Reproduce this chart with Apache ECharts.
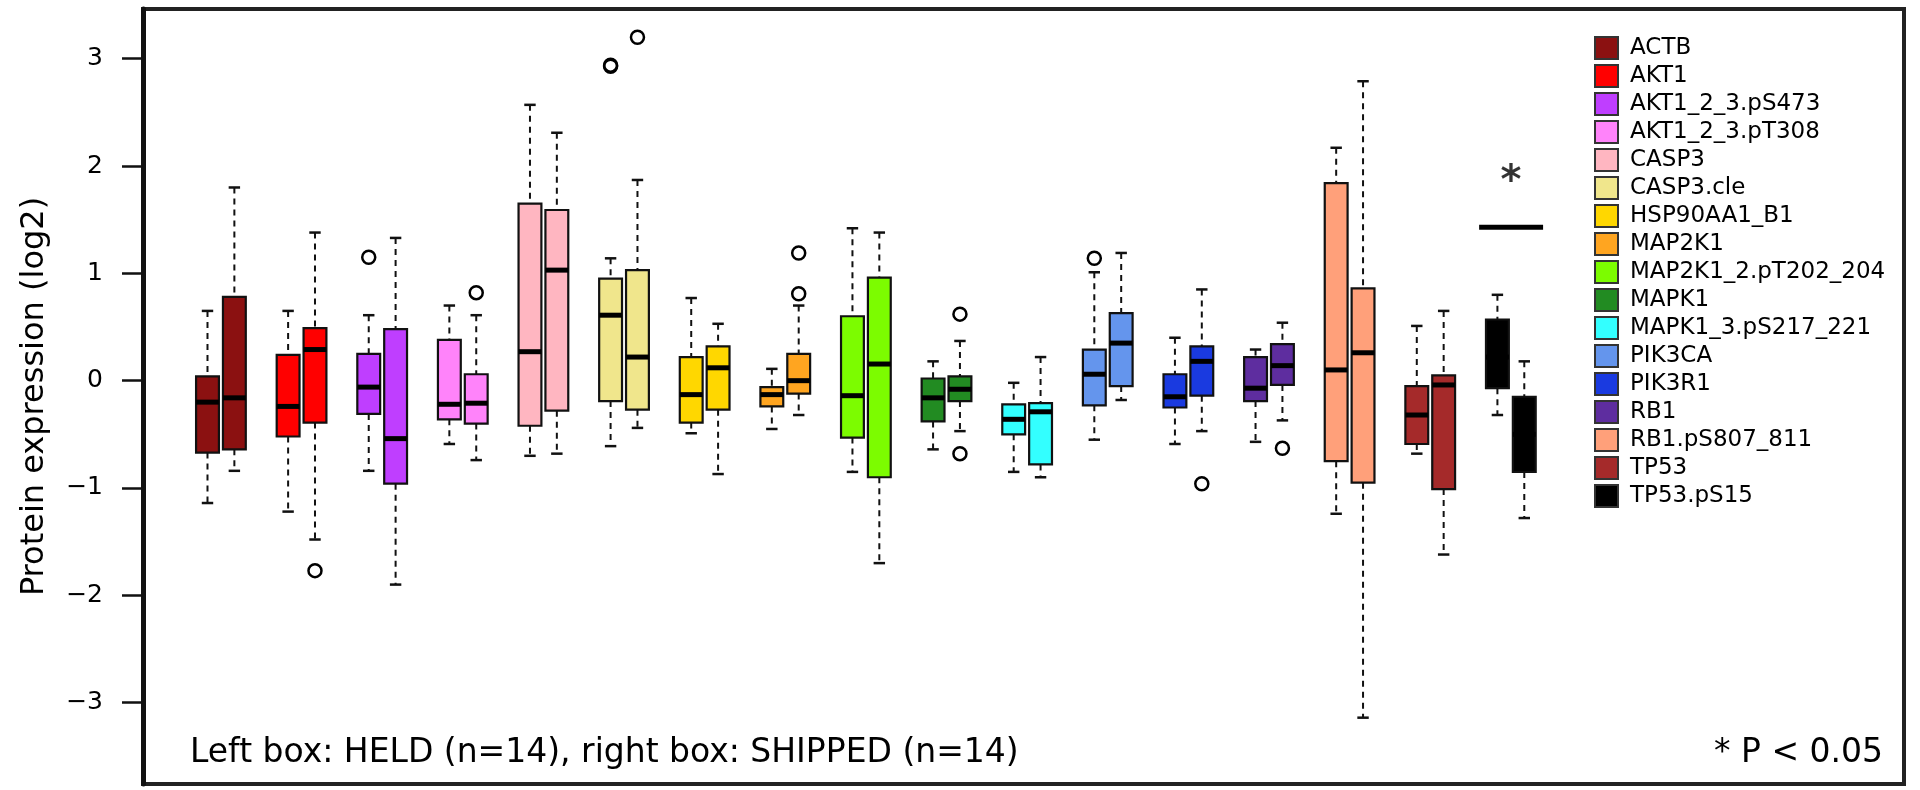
<!DOCTYPE html>
<html><head><meta charset="utf-8">
<script src="https://cdn.jsdelivr.net/npm/echarts@6/dist/echarts.min.js"></script>
<style>html,body{margin:0;padding:0;background:#fff}#c{width:1920px;height:790px}</style>
</head><body><div id="c"></div>
<script>
// ---------- data ----------
const categories = ['ACTB','AKT1','AKT1_2_3.pS473','AKT1_2_3.pT308','CASP3','CASP3.cle','HSP90AA1_B1','MAP2K1','MAP2K1_2.pT202_204','MAPK1','MAPK1_3.pS217_221','PIK3CA','PIK3R1','RB1','RB1.pS807_811','TP53','TP53.pS15'];
const colors = ['#8B1111','#FF0000','#BF3EFF','#FF83FA','#FFB6C1','#F0E68C','#FFD700','#FFA520','#7CFC00','#228B22','#33FFFF','#6495ED','#1A3AE0','#5E2D9F','#FFA07A','#A52A2A','#000000'];
// [lower whisker, Q1, median, Q3, upper whisker]
const heldStats = [
  [-1.14,-0.67,-0.20, 0.04,0.65],
  [-1.22,-0.52,-0.24, 0.24,0.65],
  [-0.84,-0.31,-0.06, 0.25,0.61],
  [-0.59,-0.36,-0.22, 0.38,0.70],
  [-0.70,-0.42, 0.27, 1.65,2.57],
  [-0.61,-0.19, 0.61, 0.95,1.14],
  [-0.49,-0.39,-0.13, 0.22,0.77],
  [-0.45,-0.24,-0.13,-0.06,0.11],
  [-0.85,-0.53,-0.14, 0.60,1.42],
  [-0.64,-0.38,-0.16, 0.02,0.18],
  [-0.85,-0.50,-0.36,-0.22,-0.02],
  [-0.55,-0.23, 0.06, 0.29,1.01],
  [-0.59,-0.25,-0.15, 0.06,0.40],
  [-0.57,-0.19,-0.07, 0.22,0.29],
  [-1.24,-0.75, 0.10, 1.84,2.17],
  [-0.68,-0.59,-0.32,-0.05,0.51],
  [-0.32,-0.07, 0.22, 0.57,0.80]
];
const shippedStats = [
  [-0.84,-0.64,-0.16, 0.78,1.80],
  [-1.48,-0.39, 0.29, 0.49,1.38],
  [-1.90,-0.96,-0.54, 0.48,1.33],
  [-0.74,-0.40,-0.21, 0.06,0.61],
  [-0.68,-0.28, 1.03, 1.59,2.31],
  [-0.44,-0.27, 0.22, 1.03,1.87],
  [-0.87,-0.27, 0.12, 0.32,0.53],
  [-0.32,-0.12, 0.00, 0.25,0.70],
  [-1.70,-0.90, 0.155,0.96,1.38],
  [-0.47,-0.19,-0.08, 0.04,0.37],
  [-0.90,-0.78,-0.29,-0.21,0.22],
  [-0.18,-0.05, 0.35, 0.63,1.19],
  [-0.47,-0.14, 0.18, 0.32,0.85],
  [-0.37,-0.04, 0.14, 0.34,0.54],
  [-3.14,-0.95, 0.26, 0.86,2.79],
  [-1.62,-1.01,-0.04, 0.05,0.65],
  [-1.28,-0.85,-0.50,-0.15,0.18]
];
// [category index, value]
const heldOutliers = [[2,1.15],[5,2.93],[5,2.94],[11,1.14]];
const shippedOutliers = [[1,-1.77],[3,0.82],[5,3.20],[7,1.19],[7,0.81],[9,0.62],[9,-0.68],[12,-0.96],[13,-0.63]];
const yTicks = [-3,-2,-1,0,1,2,3];
const significance = [{category: 16, barValue: 1.43, starValue: 1.95}];
const groupNote = 'Left box: HELD (n=14), right box: SHIPPED (n=14)';
const pNote = '* P < 0.05';
const yTitle = 'Protein expression (log2)';

// ---------- chart ----------
const FONT = 'DejaVu Sans';
const slotOf = (i, side) => 3 * i + 1 + side;

function renderBox(params, api) {
  const x = api.value(0);
  const lo = api.coord([x, api.value(1)]);
  const q1 = api.coord([x, api.value(2)]);
  const md = api.coord([x, api.value(3)]);
  const q3 = api.coord([x, api.value(4)]);
  const hi = api.coord([x, api.value(5)]);
  const w = api.size([1, 0])[0] * 0.85;
  const cx = lo[0];
  const color = api.visual('color');
  const dash = {stroke: '#111', lineWidth: 2, lineDash: [6, 5]};
  const cap = {stroke: '#111', lineWidth: 2.5};
  return {type: 'group', children: [
    {type: 'line', shape: {x1: cx, y1: hi[1], x2: cx, y2: q3[1]}, style: dash},
    {type: 'line', shape: {x1: cx, y1: q1[1], x2: cx, y2: lo[1]}, style: dash},
    {type: 'line', shape: {x1: cx - w / 4, y1: hi[1], x2: cx + w / 4, y2: hi[1]}, style: cap},
    {type: 'line', shape: {x1: cx - w / 4, y1: lo[1], x2: cx + w / 4, y2: lo[1]}, style: cap},
    {type: 'rect', shape: {x: cx - w / 2, y: q3[1], width: w, height: q1[1] - q3[1]}, style: {fill: color, stroke: '#111', lineWidth: 2.2}},
    {type: 'line', shape: {x1: cx - w / 2, y1: md[1], x2: cx + w / 2, y2: md[1]}, style: {stroke: '#000', lineWidth: 5}}
  ]};
}

const series = categories.map((name, i) => ({
  name, type: 'custom', renderItem: renderBox,
  itemStyle: {color: colors[i]},
  encode: {x: 0, y: [1, 2, 3, 4, 5]},
  data: [[slotOf(i, 0)].concat(heldStats[i]), [slotOf(i, 1)].concat(shippedStats[i])],
  z: 2, silent: true
}));

series.push({
  name: 'outliers', type: 'scatter', silent: true, z: 5,
  symbol: 'circle', symbolSize: 13,
  itemStyle: {color: 'rgba(255,255,255,0)', borderColor: '#000', borderWidth: 2.5, opacity: 1},
  data: heldOutliers.map(([i, v]) => [slotOf(i, 0), v]).concat(shippedOutliers.map(([i, v]) => [slotOf(i, 1), v]))
});

significance.forEach(s => {
  series.push({
    name: 'sigbar', type: 'line', silent: true, symbol: 'none', z: 4,
    lineStyle: {color: '#000', width: 5},
    data: [[slotOf(s.category, 0) - 0.68, s.barValue], [slotOf(s.category, 1) + 0.7, s.barValue]]
  });
  series.push({
    name: 'sigstar', type: 'scatter', silent: true, z: 4, symbolSize: 1,
    itemStyle: {color: 'rgba(0,0,0,0)'},
    label: {show: true, position: 'inside', formatter: '*', fontFamily: FONT, fontSize: 40, fontWeight: 'bold', color: '#000', offset: [0, 11]},
    data: [[(slotOf(s.category, 0) + slotOf(s.category, 1)) / 2, s.starValue]]
  });
});

const option = {
  animation: false,
  backgroundColor: '#fff',
  grid: {left: 143, right: 16, top: 9, bottom: 6, show: true, borderColor: '#222', borderWidth: 4, backgroundColor: 'rgba(0,0,0,0)'},
  xAxis: {type: 'value', min: -1.40, max: 64.13, show: false},
  yAxis: {
    type: 'value', min: -3.758, max: 3.463,
    name: yTitle, nameLocation: 'middle', nameRotate: 90, nameGap: 92,
    nameTextStyle: {fontFamily: FONT, fontSize: 32, color: '#000'},
    axisLine: {show: true, onZero: false, lineStyle: {color: '#111', width: 5}},
    axisTick: {show: true, customValues: yTicks, length: 21, lineStyle: {color: '#111', width: 2.5}},
    axisLabel: {show: true, customValues: yTicks, margin: 40, fontFamily: FONT, fontSize: 25, color: '#000',
      formatter: v => String(v).replace('-', '\u2212')},
    splitLine: {show: false}
  },
  legend: {
    data: categories, orient: 'vertical', left: 1589, top: 31,
    icon: 'rect', itemWidth: 23, itemHeight: 22, itemGap: 4,
    selectedMode: false,
    itemStyle: {borderColor: '#333', borderWidth: 2},
    textStyle: {fontFamily: FONT, fontSize: 23, color: '#000', lineHeight: 22, padding: [0, 0, 0, 7]}
  },
  graphic: [
    {type: 'text', left: 190, top: 737, style: {text: groupNote, font: '33px "DejaVu Sans"', fill: '#000'}},
    {type: 'text', right: 37, top: 737, style: {text: pNote, font: '33px "DejaVu Sans"', fill: '#000'}}
  ],
  series
};
const chart = echarts.init(document.getElementById('c'), null, {renderer: 'canvas'});
chart.setOption(option);
</script></body></html>
